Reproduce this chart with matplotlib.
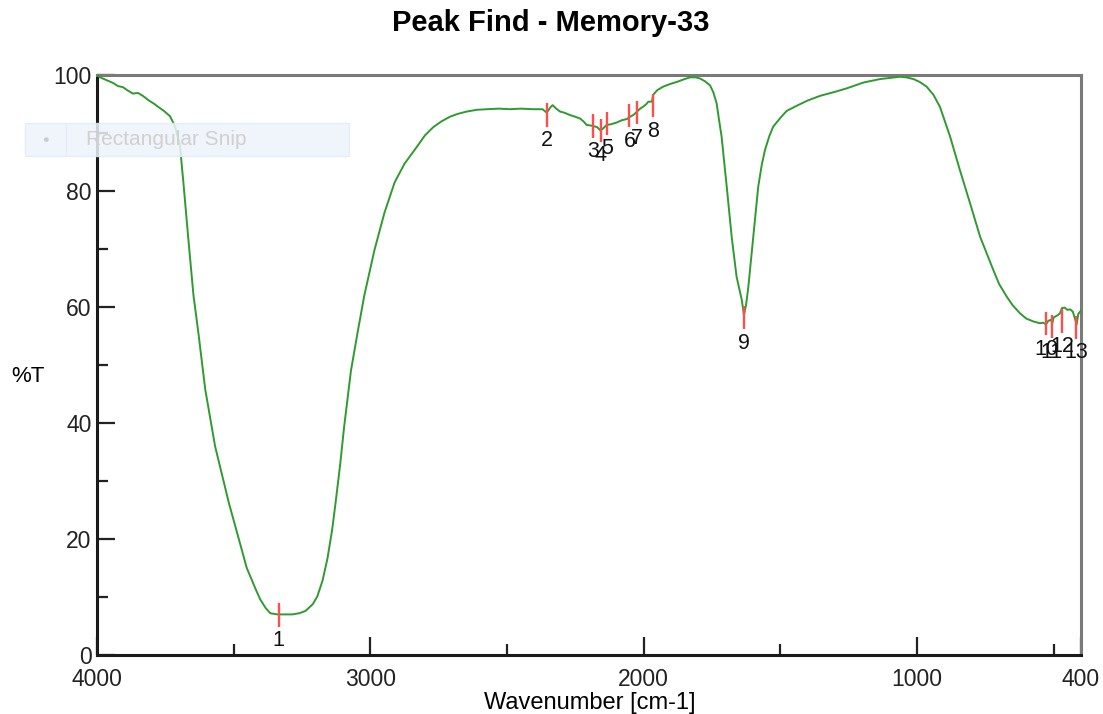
import matplotlib
matplotlib.use("Agg")
import matplotlib.pyplot as plt
from matplotlib.patches import Rectangle
from matplotlib.ticker import FixedLocator

plt.rcParams['font.family'] = ['Liberation Sans', 'DejaVu Sans']

# Spectrum (wavenumber cm-1, %T)
wavenumber = [4000, 3989, 3960, 3940, 3924, 3905, 3890, 3869, 3850, 3832, 3810, 3790, 3776,
              3755, 3733, 3715, 3697, 3684, 3666, 3647, 3629, 3604, 3568, 3518, 3469, 3452,
              3420, 3403, 3383, 3366, 3340, 3300, 3285, 3260, 3237, 3210, 3194, 3175, 3157,
              3140, 3127, 3110, 3096, 3071, 3047, 3022, 2985, 2948, 2911, 2875, 2830, 2800,
              2770, 2740, 2709, 2680, 2647, 2610, 2574, 2530, 2489, 2450, 2404, 2370, 2357,
              2350, 2340, 2333, 2320, 2306, 2290, 2270, 2250, 2233, 2220, 2209, 2195, 2184,
              2170, 2157, 2148, 2135, 2120, 2099, 2080, 2062, 2050, 2038, 2026, 2013, 2000,
              1990, 1983, 1970, 1965, 1950, 1928, 1900, 1879, 1850, 1830, 1810, 1794, 1775,
              1757, 1745, 1733, 1725, 1715, 1696, 1678, 1660, 1641, 1633, 1625, 1617, 1599,
              1581, 1568, 1556, 1540, 1526, 1500, 1477, 1440, 1400, 1355, 1300, 1257, 1196,
              1135, 1100, 1062, 1040, 1013, 990, 965, 940, 916, 900, 879, 843, 806, 769, 721,
              700, 672, 650, 623, 600, 574, 550, 538, 528, 520, 510, 505, 500, 485, 477, 470,
              460, 450, 440, 430, 422, 416, 410, 400]
transmittance = [100.0, 99.6, 99.0, 98.6, 98.1, 97.9, 97.4, 96.8, 96.9, 96.4, 95.6, 95.0, 94.5,
                 93.8, 92.9, 91.2, 88.0, 81.5, 71.8, 62.0, 55.5, 45.8, 36.0, 26.3, 17.9, 15.0,
                 11.4, 9.6, 8.1, 7.2, 7.0, 7.0, 7.0, 7.2, 7.6, 8.8, 10.1, 12.8, 16.6,
                 21.5, 26.3, 33.0, 39.3, 49.0, 55.5, 62.0, 69.8, 76.3, 81.5, 84.7, 87.6, 89.6,
                 91.0, 92.0, 92.8, 93.3, 93.7, 94.0, 94.1, 94.2, 94.1, 94.2, 94.1, 94.1, 93.6,
                 93.8, 94.5, 94.8, 94.2, 93.7, 93.5, 93.1, 92.8, 92.5, 92.0, 91.4, 91.3, 91.2,
                 91.0, 90.4, 90.8, 91.4, 91.5, 91.8, 92.2, 92.4, 92.8, 93.1, 93.6, 94.2, 94.6,
                 95.0, 95.4, 95.4, 96.6, 97.4, 98.0, 98.5, 98.8, 99.3, 99.6, 99.6, 99.4, 98.9,
                 98.2, 97.0, 95.1, 92.5, 89.4, 80.7, 72.1, 65.2, 61.2, 58.6, 60.5, 63.5, 72.1,
                 80.7, 84.5, 87.1, 89.5, 91.1, 92.6, 93.8, 94.7, 95.6, 96.4, 97.1, 97.7, 98.7,
                 99.3, 99.5, 99.7, 99.6, 99.3, 98.8, 98.0, 96.6, 94.5, 92.3, 89.4, 83.6, 77.9, 72.1, 66.4,
                 64.0, 61.8, 60.3, 58.9, 58.0, 57.5, 57.2, 57.3, 57.0, 57.6, 57.8, 57.2, 58.2, 58.6, 58.9,
                 59.8, 59.9, 59.5, 59.6, 59.2, 58.0, 57.0, 58.8, 59.4]

# Peak-find markers
peak_labels = ['1', '2', '3', '4', '5', '6', '7', '8', '9', '10', '11', '12', '13']
peak_wn = [3335, 2354, 2186, 2157, 2133, 2052, 2026, 1967, 1633, 528, 507, 469, 418]
peak_T = [6.9, 93.1, 91.2, 90.5, 91.7, 93.0, 93.5, 94.7, 58.2, 57.1, 56.6, 57.6, 56.5]

x_major = [4000, 3000, 2000, 1000, 400]
x_minor = [3500, 2500, 1500, 500]
y_major = [0, 20, 40, 60, 80, 100]
y_minor = [10, 30, 50, 70, 90]

fig = plt.figure(figsize=(11.03, 7.14), dpi=100)
ax = fig.add_axes([97 / 1103, 1 - 655 / 714, (1081 - 97) / 1103, (655 - 75) / 714])

ax.plot(wavenumber, transmittance, color='#2f9a2f', lw=1.4, zorder=3)

half = 2.0
ax.vlines(peak_wn, [t - half for t in peak_T], [t + half for t in peak_T],
          color='#ff4d4d', lw=1.7, zorder=4)
for lab, w, t in zip(peak_labels, peak_wn, peak_T):
    ax.text(w, t - half - 0.6, lab, ha='center', va='top', fontsize=15.5, color='#111111', zorder=5)

ax.set_xlim(4000, 400)
ax.set_ylim(0, 100)
ax.xaxis.set_major_locator(FixedLocator(x_major))
ax.xaxis.set_minor_locator(FixedLocator(x_minor))
ax.yaxis.set_major_locator(FixedLocator(y_major))
ax.yaxis.set_minor_locator(FixedLocator(y_minor))
ax.set_xticklabels([str(v) for v in x_major])
ax.set_yticklabels([str(v) for v in y_major])
ax.tick_params(which='major', direction='in', length=13, width=1.6, labelsize=16.5,
               colors='#222222')
ax.tick_params(axis='x', which='major', pad=9)
ax.tick_params(axis='y', which='major', pad=4)
ax.tick_params(which='minor', direction='in', length=8, width=1.6, colors='#222222')

for s in ['left', 'bottom']:
    ax.spines[s].set_color('#1a1a1a')
    ax.spines[s].set_linewidth(2.2)
for s in ['top', 'right']:
    ax.spines[s].set_color('#7a7a7a')
    ax.spines[s].set_linewidth(2.2)

fig.text(590 / 1103, 1 - 703 / 714, 'Wavenumber [cm-1]', fontsize=17, ha='center', va='center')
fig.text(28 / 1103, 1 - 377 / 714, '%T', fontsize=16, ha='center', va='center')
fig.text(551 / 1103, 1 - 23 / 714, 'Peak Find - Memory-33', fontsize=21, fontweight='bold',
         ha='center', va='center')

# faint "Rectangular Snip" overlay seen in the screenshot
fig.patches.append(Rectangle((25 / 1103, 1 - 156 / 714), (349 - 25) / 1103, 33 / 714,
                             transform=fig.transFigure, facecolor='#eef4fb', edgecolor='#e2ecf8',
                             lw=1, alpha=0.85, zorder=10))
fig.patches.append(Rectangle((66 / 1103, 1 - 156 / 714), 1 / 1103, 33 / 714,
                             transform=fig.transFigure, facecolor='#e2ecf8', edgecolor='none',
                             zorder=11))
fig.text(45 / 1103, 1 - 139.5 / 714, '\u25cf', fontsize=8, color='#c8ccd2', ha='center',
         va='center', zorder=12)
fig.text(86 / 1103, 1 - 139.5 / 714, 'Rectangular Snip', fontsize=15, color='#d0d0d0',
         ha='left', va='center', zorder=12)

fig.savefig('out.png', dpi=100)
